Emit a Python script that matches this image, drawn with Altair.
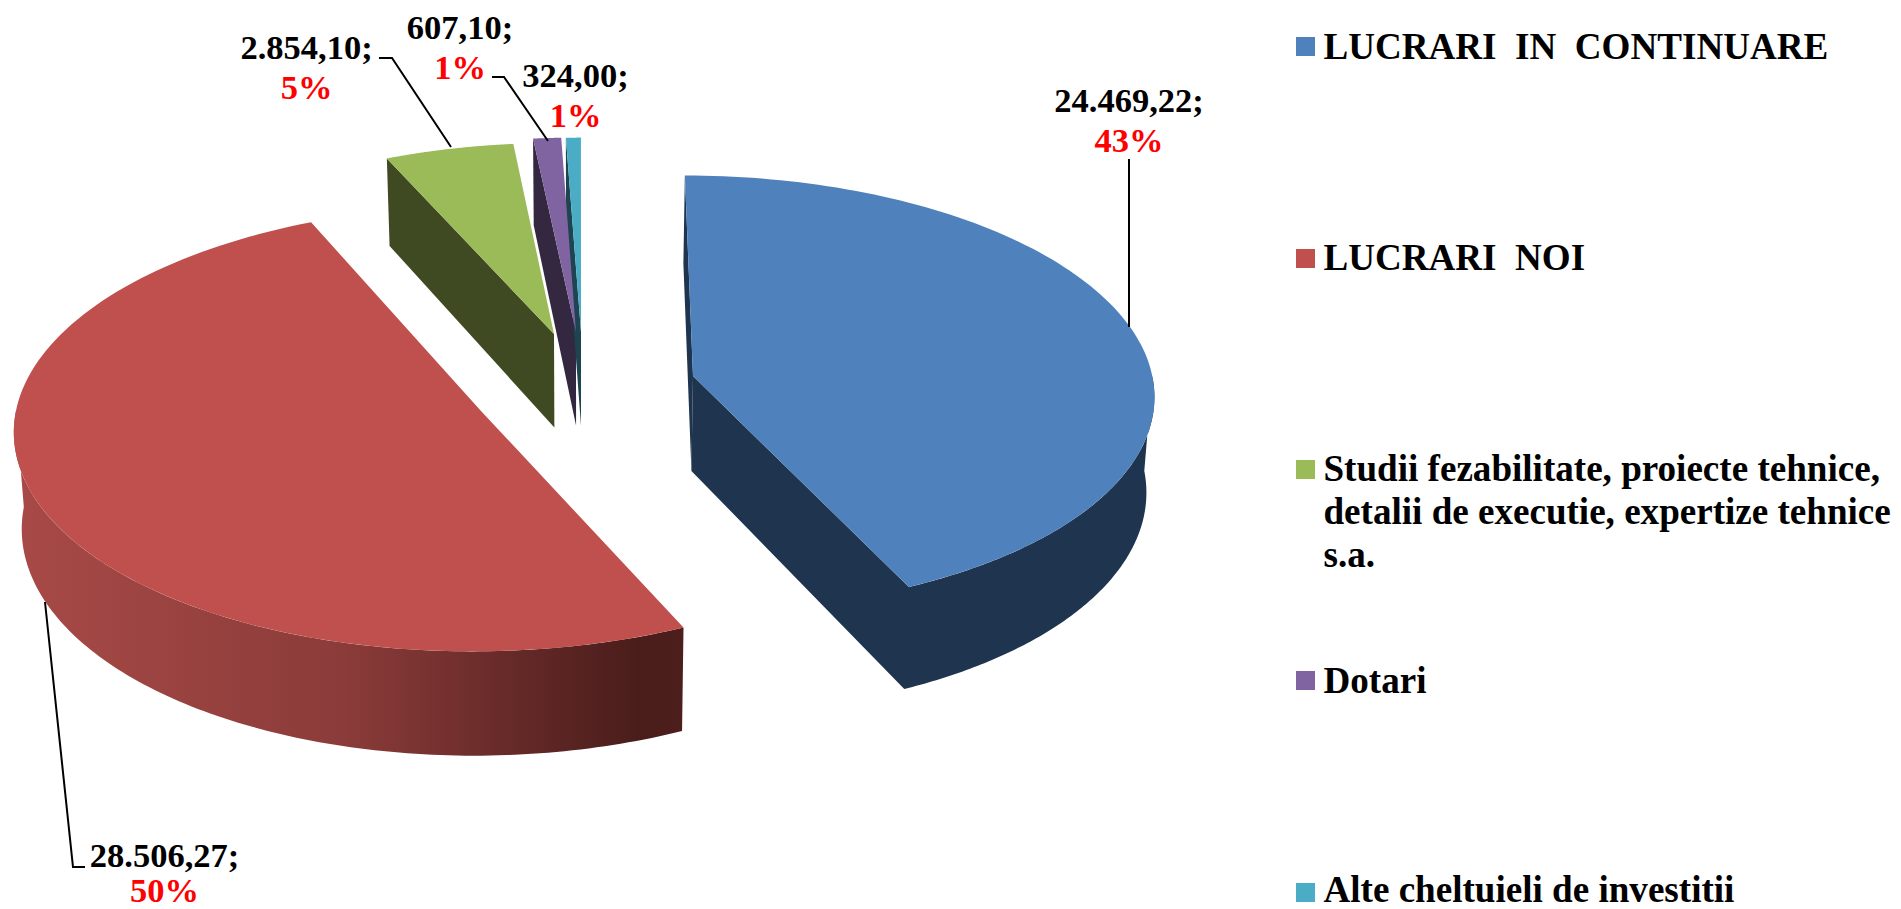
import math
import altair as alt
import pandas as pd

# ---- data ----
categories = [
    "LUCRARI  IN  CONTINUARE",
    "LUCRARI  NOI",
    "Studii fezabilitate, proiecte tehnice,|detalii de executie, expertize tehnice|s.a.",
    "Dotari",
    "Alte cheltuieli de investitii",
]
values = [24469.22, 28506.27, 2854.10, 607.10, 324.00]
top_colors = ["#4F81BD", "#C0504D", "#9BBB59", "#8064A2", "#4BACC6"]
wall_colors = ["#1F344F", "#6E2D2B", "#404A22", "#33283F", "#1D4450"]
red_wall_stops = ["#A84A47", "#8A3B39", "#4A1D1B", "#4C1F1D"]

# ---- the 3-D view (perspective of the pie, explosion of each slice) ----
CX, CY = 580.0, 350.0
A, B, D = 455.0, 212.0, 13.0
H = 94.0
SHRINK = 0.986
apex_pixels = [(693, 376), (481, 411), (554, 334), (576, 332), (581, 332)]
radius_factor = [1.0, 1.0, 0.98, 1.0, 1.0]
value_label_pos = [(1129, 112), (164.5, 867), (306.5, 59), (460, 39), (575.5, 87)]
percent_label_pos = [(1129, 152), (164.5, 902), (306.5, 99), (460, 79), (575.5, 127)]
leaders = [
    [(1129, 159), (1129, 327)],
    [(45, 602), (73, 867), (85, 867)],
    [(379, 58), (392, 58), (451, 147)],
    [(492, 77), (504, 77), (548, 141)],
]
legend_y = [46.5, 258.5, 469.5, 680.5, 892.5]
legend_text_y = [59, 270, 481, 693, 902]
LEGEND_X, LEGEND_TEXT_X, LINE_H = 1305.5, 1323.5, 43
FONT = "Liberation Serif"


def project(x, y, bottom=False):
    w = 1 + y / D
    sx = CX + A * x / w
    sy = CY - B * y / w
    if bottom:
        sx = CX + (sx - CX) * SHRINK
        sy = sy + H / w
    return sx, sy


def unproject(px, py):
    q = (CY - py) / B
    y = q / (1 - q / D)
    w = 1 + y / D
    return (px - CX) * w / A, y


total = sum(values)
starts, acc = [], 0.0
for v in values:
    starts.append(acc / total * 2 * math.pi)
    acc += v
ends = starts[1:] + [2 * math.pi]


def arc(idx, bottom=False, lo=None, hi=None, n=120):
    ox, oy = unproject(*apex_pixels[idx])
    r = radius_factor[idx]
    t0 = starts[idx] if lo is None else max(lo, starts[idx])
    t1 = ends[idx] if hi is None else min(hi, ends[idx])
    out = []
    for k in range(n + 1):
        t = t0 + (t1 - t0) * k / n
        out.append(project(ox + r * math.sin(t), oy + r * math.cos(t), bottom))
    return out


def apex(idx, bottom=False):
    ox, oy = unproject(*apex_pixels[idx])
    return project(ox, oy, bottom)


polys, grad = [], []


def add(store, name, pts, color):
    for i, (x, y) in enumerate(pts):
        store.append({"poly": name, "i": i, "x": x, "y": y, "c": color})


FRONT_LO, FRONT_HI = math.pi / 2, 3 * math.pi / 2
# side walls of the thin slices: the radius that faces the viewer
for idx in [2, 3, 4]:
    a_top, a_bot = arc(idx), arc(idx, True)
    add(polys, f"start{idx}", [a_top[0], apex(idx), apex(idx, True), a_bot[0]], wall_colors[idx])
# blue: thin wall along its first radius, then rim plus closing radius as one shape
a_top, a_bot = arc(0), arc(0, True)
add(polys, "start0", [a_top[0], apex(0), apex(0, True), a_bot[0]], wall_colors[0])
rim_top, rim_bot = arc(0, lo=FRONT_LO), arc(0, True, lo=FRONT_LO)
add(polys, "rim0", rim_top + [apex(0), apex(0, True)] + rim_bot[::-1], wall_colors[0])
# red rim, with the shading of the reference
add(grad, "rim1", arc(1, hi=FRONT_HI) + arc(1, True, hi=FRONT_HI)[::-1], wall_colors[1])

tops = []
for idx in [2, 3, 4, 1, 0]:
    add(tops, f"top{idx}", [apex(idx)] + arc(idx), top_colors[idx])

x_scale = alt.Scale(domain=[8, 1893], range=[0, 1885], nice=False, zero=False)
y_scale = alt.Scale(domain=[8, 909], range=[0, 901], nice=False, zero=False)
X = alt.X("x:Q", scale=x_scale, axis=None)
Y = alt.Y("y:Q", scale=y_scale, axis=None)


def poly_layer(rows, **mark):
    return alt.Chart(pd.DataFrame(rows)).mark_line(filled=True, **mark).encode(
        x=X, y=Y, detail="poly:N", order=alt.Order("i:Q"),
        color=alt.Color("c:N", scale=None, legend=None),
    )


walls = poly_layer(polys)
red_wall = alt.Chart(pd.DataFrame(grad)).mark_line(
    filled=True,
    fill=alt.Gradient(
        gradient="linear", x1=0, y1=0, x2=1, y2=0,
        stops=[
            alt.GradientStop(offset=0.0, color=red_wall_stops[0]),
            alt.GradientStop(offset=0.5, color=red_wall_stops[1]),
            alt.GradientStop(offset=0.93, color=red_wall_stops[2]),
            alt.GradientStop(offset=1.0, color=red_wall_stops[3]),
        ],
    ),
).encode(x=X, y=Y, detail="poly:N", order=alt.Order("i:Q"))
top_layer = poly_layer(tops)

leader_rows = []
for n, seg in enumerate(leaders):
    for i, (x, y) in enumerate(seg):
        leader_rows.append({"poly": f"l{n}", "i": i, "x": x, "y": y})
leader_layer = alt.Chart(pd.DataFrame(leader_rows)).mark_line(
    color="black", strokeWidth=2
).encode(x=X, y=Y, detail="poly:N", order=alt.Order("i:Q"))


def money(v):
    s = f"{v:,.2f}".replace(",", "#").replace(".", ",").replace("#", ".")
    return s + ";"


label_rows = []
for v, (vx, vy), (px, py) in zip(values, value_label_pos, percent_label_pos):
    label_rows.append({"x": vx, "y": vy, "t": money(v), "c": "#000000"})
    label_rows.append({"x": px, "y": py, "t": f"{round(v / total * 100)}%", "c": "#FF0000"})
labels = alt.Chart(pd.DataFrame(label_rows)).mark_text(
    font=FONT, fontWeight="bold", fontSize=34.5, align="center", baseline="alphabetic"
).encode(x=X, y=Y, text="t:N", color=alt.Color("c:N", scale=None, legend=None))

square_rows = [{"x": LEGEND_X, "y": y, "c": c} for y, c in zip(legend_y, top_colors)]
squares = alt.Chart(pd.DataFrame(square_rows)).mark_square(size=361, opacity=1).encode(
    x=X, y=Y, fill=alt.Fill("c:N", scale=None, legend=None)
)
legend_rows = []
for name, y0 in zip(categories, legend_text_y):
    for n, line in enumerate(name.split("|")):
        legend_rows.append({"x": LEGEND_TEXT_X, "y": y0 + n * LINE_H, "t": line.replace("  ", "\u00a0\u00a0")})
legend_text = alt.Chart(pd.DataFrame(legend_rows)).mark_text(
    font=FONT, fontWeight="bold", fontSize=37.1, align="left", baseline="alphabetic", color="black"
).encode(x=X, y=Y, text="t:N")

chart = alt.layer(
    walls, red_wall, top_layer, leader_layer, labels, squares, legend_text
).properties(
    width=1885, height=901, padding=0,
    autosize=alt.AutoSizeParams(type="none"),
    background="white",
).configure_view(stroke=None)

chart.save("out.html", embed_options={"renderer": "svg", "actions": False})
